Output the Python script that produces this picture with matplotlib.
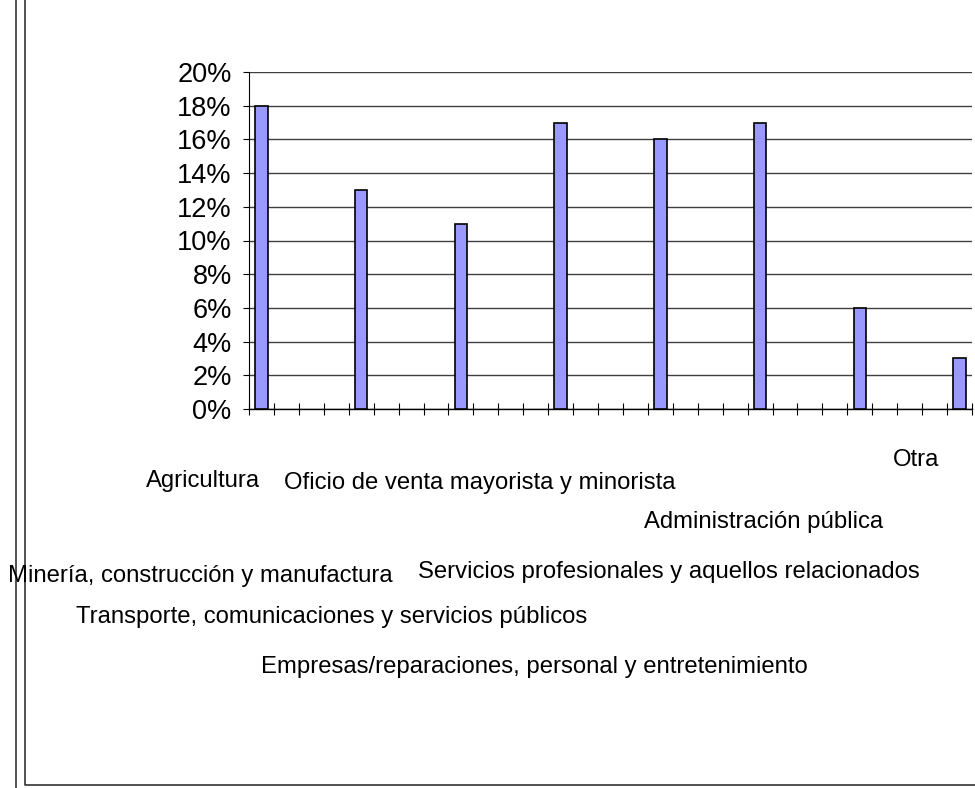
import matplotlib.pyplot as plt
from matplotlib.lines import Line2D
from matplotlib.ticker import PercentFormatter, MultipleLocator

plt.rcParams['font.family'] = ['Liberation Sans', 'DejaVu Sans']

categories = ['Agricultura',
              'Minería, construcción y manufactura',
              'Transporte, comunicaciones y servicios públicos',
              'Oficio de venta mayorista y minorista',
              'Empresas/reparaciones, personal y entretenimiento',
              'Servicios profesionales y aquellos relacionados',
              'Administración pública',
              'Otra']
shares = [0.18, 0.13, 0.11, 0.17, 0.16, 0.17, 0.06, 0.03]
slots = [0, 4, 8, 12, 16, 20, 24, 28]

# where Excel dropped each category label (left edge px, baseline px)
label_pos = [(146, 487), (8, 582), (76, 623), (284, 489),
             (261, 673), (418, 578), (644, 528), (893, 466)]

W, H = 975, 788
fig = plt.figure(figsize=(W / 100, H / 100), dpi=100)
ax = fig.add_axes([249 / W, 1 - 409 / H, 723 / W, 337 / H])

ax.bar(slots, shares, width=0.5, color='#9999ff', edgecolor='black',
       linewidth=1.2, zorder=3)

ax.set_xlim(-0.5, 28.5)
ax.set_ylim(0, 0.20)
ax.yaxis.set_major_locator(MultipleLocator(0.02))
ax.yaxis.set_major_formatter(PercentFormatter(xmax=1, decimals=0))
ax.set_xticks([i - 0.5 for i in range(30)])
ax.set_xticklabels([])
ax.grid(axis='y', color='#404040', linewidth=1.0, zorder=0)
ax.tick_params(axis='y', direction='out', length=4.5, width=0.8,
               labelsize=19.5, pad=8)
ax.tick_params(axis='x', direction='inout', length=9, width=0.8)
for s in ['top', 'right']:
    ax.spines[s].set_visible(False)
ax.spines['left'].set_linewidth(0.8)
ax.spines['bottom'].set_linewidth(1.0)

for name, (x, y) in zip(categories, label_pos):
    fig.text(x / W, 1 - y / H, name, ha='left', va='baseline', fontsize=17.2)

# chart frame left over from the spreadsheet
fig.add_artist(Line2D([16 / W, 16 / W], [0, 1], color='#333333', lw=1.2))
fig.add_artist(Line2D([25 / W, 25 / W, 1], [1, 1 - 785 / H, 1 - 785 / H],
                      color='#333333', lw=1.2))

fig.savefig('out.png', dpi=100)
